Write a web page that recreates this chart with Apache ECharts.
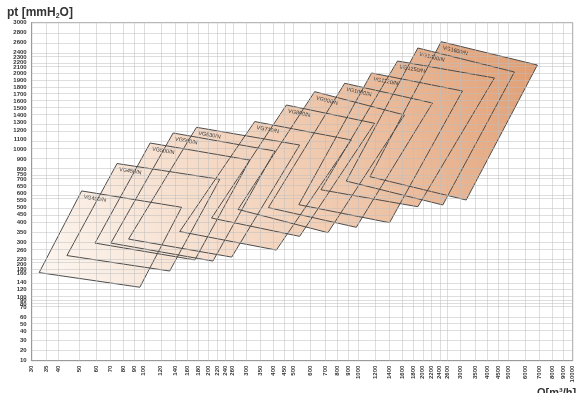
<!DOCTYPE html>
<html><head><meta charset="utf-8">
<script src="https://cdn.jsdelivr.net/npm/echarts@6/dist/echarts.min.js"></script>
<style>html,body{margin:0;padding:0;background:#fff}#c{width:580px;height:393px}</style>
</head><body><div id="c"></div>
<script>
// ---- axis ticks ----
const xTicks = [30,35,40,50,60,70,80,90,100,120,140,160,180,200,220,240,260,300,350,400,450,500,600,700,800,900,1000,1200,1400,1600,1800,2000,2200,2400,2600,3000,3500,4000,4500,5000,6000,7000,8000,9000,10000];
const yTicks = [10,20,30,40,50,60,70,80,90,100,120,140,160,180,200,220,260,300,350,400,450,500,550,600,650,700,750,800,900,1000,1100,1200,1300,1400,1500,1600,1700,1800,1900,2000,2100,2200,2300,2400,2600,2800,3000];
// the reference's (non-logarithmic) pressure scale: relative height of each tick
const yTickLevel = [0,0.0317,0.0592,0.0870,0.1086,0.1284,0.1580,0.1678,0.1775,0.1876,0.2107,0.2328,0.2580,0.2713,0.2861,0.2994,0.3254,0.3512,0.3799,0.4083,0.4320,0.4538,0.4754,0.4947,0.5169,0.5361,0.5509,0.5657,0.5967,0.6263,0.6544,0.6811,0.7047,0.7269,0.7476,0.7683,0.7891,0.8098,0.8305,0.8512,0.8689,0.8837,0.8985,0.9133,0.9429,0.9725,1];

// ---- fan working areas: corners top-left, top-right, bottom-right, bottom-left ----
const fanNames = ['VG400/N','VG450/N','VG500/N','VG560/N','VG630/N','VG710/N','VG800/N','VG900/N','VG1000/N','VG1120/N','VG1250/N','VG1400/N','VG1600/N'];
const fanQ = [
  [51.3,150,95.8,32.5],
  [75,226,132,43.8],
  [107,312,173,59.2],
  [137,408,210,70.2],
  [176,533,257,84.9],
  [329,928,415,147],
  [462,1192,533,207],
  [626,1643,722,275],
  [864,2219,979,381],
  [1154,3061,1399,528],
  [1525,4315,1896,670],
  [1896,5347,2479,879],
  [2436,6843,3186,1134]
];
const fanPt = [
  [617,500,126,164],
  [857,702,171,238],
  [1063,890,218,295],
  [1172,980,213,295],
  [1240,1042,231,315],
  [1313,1095,263,354],
  [1543,1290,329,429],
  [1733,1400,348,486],
  [1853,1571,376,498],
  [2000,1743,400,518],
  [2220,1929,504,625],
  [2480,2017,516,688],
  [2606,2140,550,728]
];

function yLevel(v) {
  for (let i = 0; i < yTicks.length - 1; i++) {
    if (v <= yTicks[i + 1]) {
      const t = (v - yTicks[i]) / (yTicks[i + 1] - yTicks[i]);
      return yTickLevel[i] + t * (yTickLevel[i + 1] - yTickLevel[i]);
    }
  }
  return 1;
}
function levelLabel(u) {
  let best = 0, d = 9;
  yTickLevel.forEach((l, i) => { if (Math.abs(l - u) < d) { d = Math.abs(l - u); best = i; } });
  return String(yTicks[best]);
}

const fanData = fanNames.map((n, i) => {
  const row = [];
  for (let k = 0; k < 4; k++) { row.push(fanQ[i][k], yLevel(fanPt[i][k])); }
  row.push(i);
  return row;
});

const chart = echarts.init(document.getElementById('c'), null, {renderer: 'canvas'});
const grad = new echarts.graphic.LinearGradient(40, 290, 540, 50, [
  {offset: 0, color: '#fdf8f3'},
  {offset: 0.5, color: '#f2cfb6'},
  {offset: 1, color: '#df9d72'}
], true);

function corners(api) {
  const pts = [];
  for (let k = 0; k < 4; k++) pts.push(api.coord([api.value(2 * k), api.value(2 * k + 1)]));
  return pts;
}

const labelFont = 'Liberation Sans Narrow, Liberation Sans, sans-serif';

chart.setOption({
  animation: false,
  title: [
    {text: 'pt [mmH{s|2}O]', left: 2, top: 1,
     textStyle: {fontSize: 12, fontWeight: 'bold', color: '#333', fontFamily: 'Liberation Sans, sans-serif',
       rich: {s: {fontSize: 7, fontWeight: 'bold', color: '#333', verticalAlign: 'bottom', padding: [7, 0, 0, 0]}}}},
    {text: 'Q[m³/h]', left: 532, top: 382,
     textStyle: {fontSize: 11, fontWeight: 'bold', color: '#333', fontFamily: 'Liberation Sans, sans-serif'}}
  ],
  grid: {left: 31.7, right: 7.3, top: 22.7, bottom: 32.3, show: true, borderColor: '#a0a0a0', borderWidth: 1, backgroundColor: '#fff'},
  xAxis: {
    type: 'log', logBase: 10, min: 30, max: 10000,
    axisLine: {show: true, lineStyle: {color: '#777'}},
    axisTick: {show: false},
    splitLine: {show: false},
    minorTick: {show: false},
    axisLabel: {customValues: xTicks, rotate: 90, fontSize: 6, fontWeight: 'bold', color: '#333', margin: 5,
      fontFamily: labelFont, formatter: v => String(Math.round(v))}
  },
  yAxis: {
    type: 'value', min: 0, max: 1,
    axisLine: {show: true, lineStyle: {color: '#777'}},
    axisTick: {show: false},
    splitLine: {show: false},
    axisLabel: {customValues: yTickLevel, fontSize: 6, fontWeight: 'bold', color: '#333', margin: 5,
      fontFamily: labelFont, formatter: v => levelLabel(v)}
  },
  series: [
    {
      type: 'custom', z: 1, silent: true,
      encode: {x: [0, 2, 4, 6], y: [1, 3, 5, 7]},
      data: fanData,
      renderItem: (params, api) => ({type: 'polygon', shape: {points: corners(api)}, style: {fill: grad, stroke: null}})
    },
    {
      type: 'line', z: 2, silent: true, data: [],
      markLine: {
        silent: true, symbol: ['none', 'none'], animation: false,
        label: {show: false},
        lineStyle: {color: 'rgba(190,190,190,0.5)', width: 1, type: 'solid'},
        data: [...xTicks.map(v => ({xAxis: v})), ...yTickLevel.map(u => ({yAxis: u}))]
      }
    },
    {
      type: 'custom', z: 3, silent: true,
      encode: {x: [0, 2, 4, 6], y: [1, 3, 5, 7]},
      data: fanData,
      renderItem: (params, api) => {
        const p = corners(api);
        const ang = Math.atan2(p[1][1] - p[0][1], p[1][0] - p[0][0]);
        const ox = 3, oy = 2.5;
        const tx = p[0][0] + ox * Math.cos(ang) - oy * Math.sin(ang);
        const ty = p[0][1] + ox * Math.sin(ang) + oy * Math.cos(ang);
        return {type: 'group', children: [
          {type: 'polygon', shape: {points: p}, style: {fill: null, stroke: '#4d4d4d', lineWidth: 1}},
          {type: 'text', x: tx, y: ty, rotation: -ang,
           style: {text: fanNames[params.dataIndex], fontSize: 5.5, fill: '#333', fontFamily: labelFont,
             verticalAlign: 'top', align: 'left'}}
        ]};
      }
    }
  ]
});
</script></body></html>
